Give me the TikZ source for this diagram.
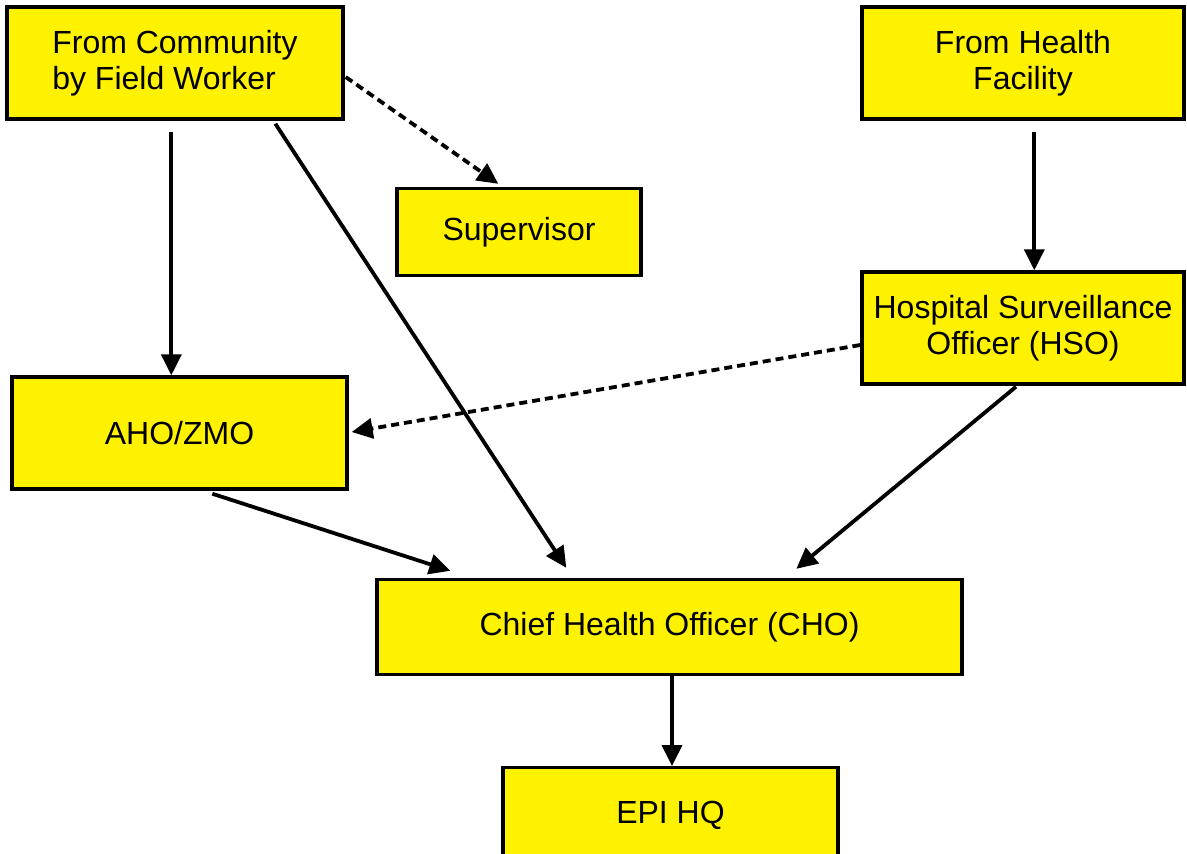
\documentclass[tikz,border=0pt]{standalone}
\usepackage{fontspec}
\setmainfont{Liberation Sans}
\usetikzlibrary{arrows.meta,calc}
\definecolor{boxyellow}{RGB}{255,242,0}
\tikzset{
  box/.style={draw=black, fill=boxyellow, line width=1.7pt, inner sep=0pt,
    font=\fontsize{16pt}{18pt}\selectfont, text=black},
  arr/.style={line width=1.9pt, -{Triangle[length=10.5pt,width=10pt]}},
  dasharr/.style={arr, dash pattern=on 4pt off 2.5pt},
}
\begin{document}
\begin{tikzpicture}[x=0.5pt, y=-0.5pt]
\useasboundingbox (0,0) rectangle (1187,853);

% boxes (coordinates in pixels, y downwards)
\node[box, minimum width=168pt, minimum height=56pt, align=left] (comm) at (175,63)
  {From Community\\by Field Worker};
\node[box, minimum width=161pt, minimum height=56pt, align=center] (health) at (1023,63)
  {From Health\\Facility};
\node[box, minimum width=122pt, minimum height=43.5pt] (sup) at (519,232) {Supervisor};
\node[box, minimum width=161pt, minimum height=56pt, align=center] (hso) at (1023,328)
  {Hospital Surveillance\\Officer (HSO)};
\node[box, minimum width=167.5pt, minimum height=56pt] (aho) at (179.5,433) {AHO/ZMO};
\node[box, minimum width=292.5pt, minimum height=47.5pt] (cho) at (669.5,627)
  {Chief Health Officer (CHO)};
\node[box, anchor=north, minimum width=167.5pt, inner ysep=16.5pt,
  text height=11.5pt, text depth=40pt] (epi) at (670.5,766) {EPI HQ};

% connectors
\draw[arr] ($(comm.south west)+(166,11)$) coordinate (c1) -- (c1 |- aho.north);
\draw[arr] ($(comm.south west)+(270,3)$) -- ($(cho.north west)+(191,-10)$);
\draw[dasharr] ($(comm.east)+(1,14)$) -- ($(sup.north west)+(103,-3)$);
\draw[arr] ($(health.south west)+(174,11)$) coordinate (h1) -- (h1 |- hso.north);
\draw[dasharr] ($(hso.west)+(0,17)$) -- ($(aho.east)+(3,-1)$);
\draw[arr] ($(hso.south)+(-7,1)$) -- ($(cho.north west)+(421,-9)$);
\draw[arr] ($(aho.south west)+(202,3)$) -- ($(cho.north west)+(75,-7)$);
\draw[arr] ($(cho.south)+(2.5,0)$) coordinate (e1) -- (e1 |- epi.north);
\end{tikzpicture}
\end{document}
